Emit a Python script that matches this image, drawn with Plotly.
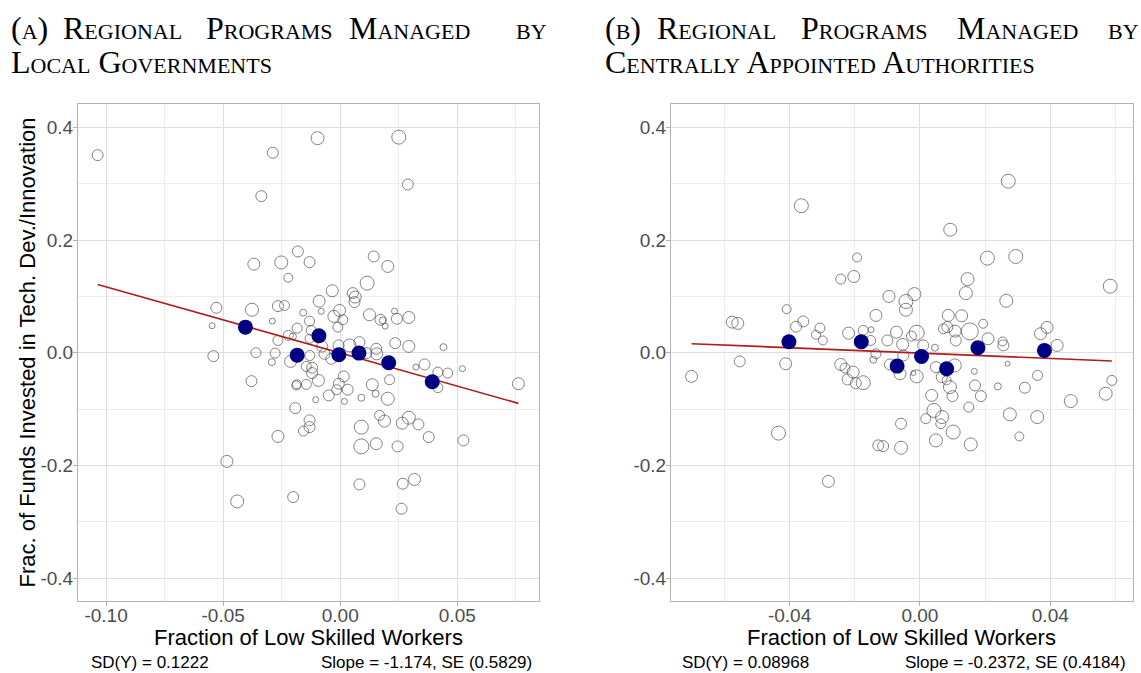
import plotly.graph_objects as go

# ---------------- data: panel (a) local governments ----------------
a_x = [-0.1036, -0.0288, -0.0337, -0.0181, -0.0369, -0.0252, -0.0222, -0.0131, -0.0529, -0.0377,
       -0.0266, -0.0238, -0.0547, -0.0290, -0.0158, -0.0131, -0.0184, -0.0222, -0.0202, -0.0266,
       -0.0131, -0.0360, -0.0278, -0.0542, -0.0292, -0.0212, -0.0379, -0.0188, -0.0185, -0.0145,
       -0.0192, -0.0131, -0.0157, -0.0266, -0.0484, -0.0440, -0.0201, -0.0131, -0.0097, 0.0250,
       0.0289, 0.0143, 0.0203, 0.0115, -0.0034, -0.0090, 0.0054, 0.0064, 0.0061, -0.0081,
       -0.0003, -0.0027, 0.0011, -0.0010, 0.0125, 0.0172, 0.0182, 0.0192, 0.0232, 0.0242,
       0.0293, -0.0124, 0.0235, 0.0293, 0.0441, 0.0040, -0.0007, 0.0082, 0.0154, 0.0360,
       0.0323, 0.0417, 0.0459, 0.0522, 0.0417, 0.0761, 0.0211, 0.0137, 0.0151, 0.0203,
       0.0090, 0.0015, -0.0006, 0.0032, -0.0015, -0.0049, 0.0018, -0.0105, -0.0093, -0.0120,
       -0.0120, 0.0168, 0.0189, 0.0090, 0.0154, 0.0090, 0.0265, 0.0293, 0.0334, 0.0378,
       0.0526, 0.0245, 0.0082, 0.0267, 0.0317, 0.0262, -0.0130, -0.0067, -0.0038, -0.0077,
       0.0111, 0.0156, -0.0145]
a_y = [0.3505, 0.3548, 0.2778, 0.1797, 0.1572, 0.1602, 0.1330, 0.1607, 0.0798, 0.0763,
       0.0827, 0.0839, 0.0479, 0.0561, 0.0710, 0.0561, 0.0437, 0.0307, 0.0289, 0.0218,
       0.0248, 0.0000, -0.0007, -0.0060, -0.0167, -0.0154, -0.0504, -0.0580, -0.0560, -0.0562,
       -0.0983, -0.1200, -0.1390, -0.1485, -0.1928, -0.2638, -0.2561, -0.1320, 0.3807, 0.3825,
       0.2985, 0.1708, 0.1531, 0.1235, 0.1100, 0.0915, 0.1058, 0.0987, 0.0898, 0.0733,
       0.0750, 0.0644, 0.0585, 0.0454, 0.0674, 0.0585, 0.0573, 0.0472, 0.0738, 0.0603,
       0.0626, 0.0396, 0.0170, 0.0112, 0.0099, 0.0130, 0.0130, 0.0188, 0.0070, -0.0208,
       -0.0255, -0.0344, -0.0361, -0.0284, -0.0620, -0.0550, -0.0479, -0.0568, -0.0727, -0.0816,
       -0.0798, -0.0420, -0.0550, -0.0656, -0.0656, -0.0757, -0.0864, -0.0834, -0.0491, -0.0266,
       -0.0361, -0.1112, -0.1213, -0.1320, -0.1614, -0.1662, -0.1249, -0.1153, -0.1272, -0.1497,
       -0.1556, -0.1662, -0.2336, -0.2324, -0.2248, -0.2767, -0.0050, -0.0020, -0.0107, 0.0110,
       -0.0007, -0.0020, -0.0243]
a_w = [7, 7, 7, 7, 8, 9, 5, 7, 7, 9,
       7, 6, 2, 2, 3, 6, 6, 6, 3, 6,
       5, 6, 6, 7, 3, 8, 7, 5, 5, 6,
       7, 7, 6, 8, 8, 9, 7, 7, 9, 10,
       7, 7, 8, 10, 8, 8, 7, 8, 7, 2,
       8, 8, 6, 6, 8, 7, 3, 2, 2, 7,
       8, 6, 7, 8, 3, 9, 7, 7, 7, 7,
       2, 6, 6, 2, 6, 8, 6, 8, 3, 9,
       3, 7, 7, 7, 6, 7, 2, 2, 8, 7,
       7, 6, 8, 10, 8, 11, 8, 9, 7, 7,
       7, 7, 7, 7, 8, 7, 6, 7, 7, 7,
       7, 8, 6]
a_bin_x = [-0.0405, -0.0184, -0.0091, -0.0006, 0.0080, 0.0207, 0.0393]
a_bin_y = [0.0454, -0.0043, 0.0302, -0.0036, -0.0007, -0.0178, -0.0515]
a_slope, a_se, a_intercept, a_sd_y = -1.174, 0.5829, -0.0005, 0.1222

# ---------------- data: panel (b) centrally appointed authorities ----------------
b_x = [-0.0364, -0.0193, -0.0203, -0.0243, -0.0409, -0.0576, -0.0559, -0.0358, -0.0380, -0.0307,
       -0.0319, -0.0298, -0.0219, -0.0174, -0.0150, -0.0151, -0.0135, -0.0701, -0.0553, -0.0412,
       -0.0434, -0.0281, -0.0243, -0.0230, -0.0205, -0.0222, -0.0197, -0.0174, -0.0143, -0.0128,
       -0.0135, 0.0271, 0.0093, 0.0207, 0.0294, 0.0584, 0.0146, 0.0141, 0.0265, -0.0095,
       -0.0043, -0.0043, -0.0017, 0.0087, 0.0128, 0.0153, 0.0072, 0.0084, 0.0108, 0.0110,
       0.0194, 0.0209, 0.0254, 0.0256, 0.0370, 0.0390, 0.0421, -0.0072, -0.0010, -0.0026,
       -0.0100, -0.0053, 0.0010, 0.0046, -0.0092, -0.0061, -0.0010, -0.0020, -0.0051, 0.0049,
       0.0107, 0.0067, 0.0082, 0.0092, 0.0100, 0.0036, 0.0043, 0.0068, 0.0064, 0.0018,
       0.0102, 0.0049, 0.0156, -0.0058, -0.0113, -0.0058, 0.0150, 0.0169, 0.0167, 0.0187,
       0.0239, 0.0269, 0.0276, 0.0322, 0.0305, 0.0360, 0.0361, 0.0463, 0.0570, 0.0589]
b_y = [0.2608, 0.1690, 0.1353, 0.1306, 0.0773, 0.0543, 0.0520, 0.0555, 0.0461, 0.0437,
       0.0319, 0.0218, 0.0348, 0.0396, 0.0408, 0.0218, 0.0662, -0.0420, -0.0154, -0.0195,
       -0.1426, -0.2283, -0.0208, -0.0273, -0.0344, -0.0474, -0.0539, -0.0532, -0.0124, -0.1644,
       -0.0020, 0.3044, 0.2182, 0.1678, 0.1708, 0.1181, 0.1306, 0.1057, 0.0922, 0.0999,
       0.0910, 0.0763, 0.1040, 0.0662, 0.0656, 0.0378, 0.0425, 0.0454, 0.0383, 0.0218,
       0.0514, 0.0248, 0.0200, 0.0130, 0.0337, 0.0449, 0.0130, 0.0365, 0.0355, 0.0295,
       0.0218, 0.0147, 0.0130, 0.0089, -0.0208, -0.0373, -0.0420, -0.0361, -0.0048, -0.0255,
       -0.0225, -0.0432, -0.0491, -0.0610, -0.0770, -0.0757, -0.1024, -0.1142, -0.1260, -0.1171,
       -0.1408, -0.1556, -0.1627, -0.1260, -0.1657, -0.1685, -0.0965, -0.0580, -0.0332, -0.0770,
       -0.0598, -0.0195, -0.1094, -0.0621, -0.1485, -0.1142, -0.0403, -0.0858, -0.0727, -0.0491]
b_w = [10, 5, 8, 6, 5, 8, 8, 7, 7, 6,
       5, 5, 8, 6, 2, 6, 8, 8, 7, 8,
       10, 8, 8, 6, 8, 7, 7, 10, 3, 7,
       6, 10, 9, 10, 10, 10, 9, 9, 9, 8,
       10, 9, 9, 8, 8, 13, 6, 7, 8, 7,
       5, 8, 5, 7, 8, 8, 8, 8, 11, 6,
       7, 8, 7, 3, 7, 8, 9, 1, 7, 7,
       9, 7, 5, 9, 7, 8, 10, 9, 6, 6,
       10, 9, 9, 7, 7, 9, 6, 7, 2, 7,
       3, 1, 9, 7, 5, 9, 6, 9, 9, 6]
b_bin_x = [-0.0402, -0.0180, -0.0070, 0.0005, 0.0082, 0.0178, 0.0382]
b_bin_y = [0.0195, 0.0195, -0.0237, -0.0066, -0.0284, 0.0089, 0.0041]
b_slope, b_se, b_intercept, b_sd_y = -0.2372, 0.4184, -0.0006, 0.08968

a_title = ["(a)", "Regional", "Programs", "Managed", "by", "Local Governments"]
b_title = ["(b)", "Regional", "Programs", "Managed", "by", "Centrally Appointed Authorities"]
x_label = "Fraction of Low Skilled Workers"
y_label = "Frac. of Funds Invested in Tech. Dev./Innovation"

a_xticks = [-0.10, -0.05, 0.00, 0.05]
a_xminor = [-0.075, -0.025, 0.025, 0.075]
b_xticks = [-0.04, 0.00, 0.04]
b_xminor = [-0.06, -0.02, 0.02, 0.06]
yticks = [-0.4, -0.2, 0.0, 0.2, 0.4]
yminor = [-0.3, -0.1, 0.1, 0.3]

# ---------------- layout geometry ----------------
W, H = 1141, 673
def px(x):
    return x / W
def py(y):
    return 1 - y / H

top, bottom = 104, 601
a_left, a_right = 78, 539
b_left, b_right = 671, 1132.7

SANS = "Liberation Sans"
SERIF = "Liberation Serif"
BORDER = "#b3b3b3"
GRID = "#dedede"
GRID_MINOR = "#eeeeee"
CIRCLE = "#4f4f4f"
NAVY = "#000080"
FIT = "#b01c1c"


def fmt_tick(v, nd):
    return f"{v:.{nd}f}"


fig = go.Figure()


def add_panel(xs, ys, ws, bx, by, slope, icpt, xa, ya):
    fig.add_trace(go.Scatter(
        x=xs, y=ys, mode="markers", xaxis=xa, yaxis=ya, showlegend=False,
        hoverinfo="skip",
        marker=dict(size=[4 + w for w in ws], color="rgba(0,0,0,0)",
                    line=dict(color=CIRCLE, width=1)),
    ))
    x0, x1 = min(xs), max(xs)
    fig.add_trace(go.Scatter(
        x=[x0, x1], y=[icpt + slope * x0, icpt + slope * x1], mode="lines",
        xaxis=xa, yaxis=ya, showlegend=False, hoverinfo="skip",
        line=dict(color=FIT, width=1.6),
    ))
    fig.add_trace(go.Scatter(
        x=bx, y=by, mode="markers", xaxis=xa, yaxis=ya, showlegend=False,
        hoverinfo="skip",
        marker=dict(size=15, color=NAVY, line=dict(width=0)),
    ))


add_panel(a_x, a_y, a_w, a_bin_x, a_bin_y, a_slope, a_intercept, "x", "y")
add_panel(b_x, b_y, b_w, b_bin_x, b_bin_y, b_slope, b_intercept, "x2", "y2")


def axis_common(standoff):
    return dict(
        showline=True, mirror=True, linecolor=BORDER, linewidth=1,
        ticks="outside", ticklen=4, tickcolor=BORDER, tickwidth=1,
        ticklabelstandoff=standoff,
        showgrid=True, gridcolor=GRID, gridwidth=1, zeroline=False,
        tickfont=dict(family=SANS, size=19, color="#4d4d4d"),
        tickmode="array",
    )


ylab = dict(tickvals=yticks, ticktext=[fmt_tick(v, 1) for v in yticks],
            range=[-0.4405, 0.4413],
            minor=dict(tickvals=yminor, showgrid=True, gridcolor=GRID_MINOR, gridwidth=1, ticks=""))

fig.update_layout(
    width=W, height=H, margin=dict(l=0, r=0, t=0, b=0),
    paper_bgcolor="white", plot_bgcolor="white",
    xaxis=dict(domain=[px(a_left), px(a_right)], anchor="y", range=[-0.1120, 0.0849],
               tickvals=a_xticks, ticktext=[fmt_tick(v, 2) for v in a_xticks],
               minor=dict(tickvals=a_xminor, showgrid=True, gridcolor=GRID_MINOR, gridwidth=1, ticks=""),
               **axis_common(-7)),
    yaxis=dict(domain=[py(bottom), py(top)], anchor="x", **ylab, **axis_common(-4)),
    xaxis2=dict(domain=[px(b_left), px(b_right)], anchor="y2", range=[-0.0764, 0.0653],
                tickvals=b_xticks, ticktext=[fmt_tick(v, 2) for v in b_xticks],
                minor=dict(tickvals=b_xminor, showgrid=True, gridcolor=GRID_MINOR, gridwidth=1, ticks=""),
                **axis_common(-7)),
    yaxis2=dict(domain=[py(bottom), py(top)], anchor="x2", **ylab, **axis_common(-4)),
)

ann = []


def text(x, y, s, size, family=SANS, xanchor="left", yanchor="middle", angle=0, variant="normal", color="black"):
    ann.append(dict(x=px(x), y=py(y), xref="paper", yref="paper", text=s, showarrow=False,
                    xanchor=xanchor, yanchor=yanchor, textangle=angle,
                    font=dict(family=family, size=size, color=color, variant=variant)))


# panel titles: first line spread across the panel width, second line flush left
TSIZE = 32
def title(words, starts, right_end, y1, y2):
    for w, s in zip(words[:4], starts):
        text(s, y1, w, TSIZE, family=SERIF, variant="small-caps")
    text(right_end, y1, words[4], TSIZE, family=SERIF, xanchor="right", variant="small-caps")
    text(starts[0], y2, words[5], TSIZE, family=SERIF, variant="small-caps")


title(a_title, [9, 61, 204, 347], 549, 28, 62)
title(b_title, [603, 655, 799, 955], 1141, 28, 62)

# axis titles
text((a_left + a_right) / 2, 637, x_label, 22, xanchor="center")
text((b_left + b_right) / 2, 637, x_label, 22, xanchor="center")
text(27, (top + bottom) / 2, y_label, 22, xanchor="center", angle=-90)

# summary statistics under each panel
text(89, 662, f"SD(Y) = {a_sd_y:.4g}", 17)
text(319, 662, f"Slope = {a_slope:.4g}, SE ({a_se:.4g})", 17)
text(680, 662, f"SD(Y) = {b_sd_y:.4g}", 17)
text(903, 662, f"Slope = {b_slope:.4g}, SE ({b_se:.4g})", 17)

fig.update_layout(annotations=ann)
fig.write_html("out.html")
